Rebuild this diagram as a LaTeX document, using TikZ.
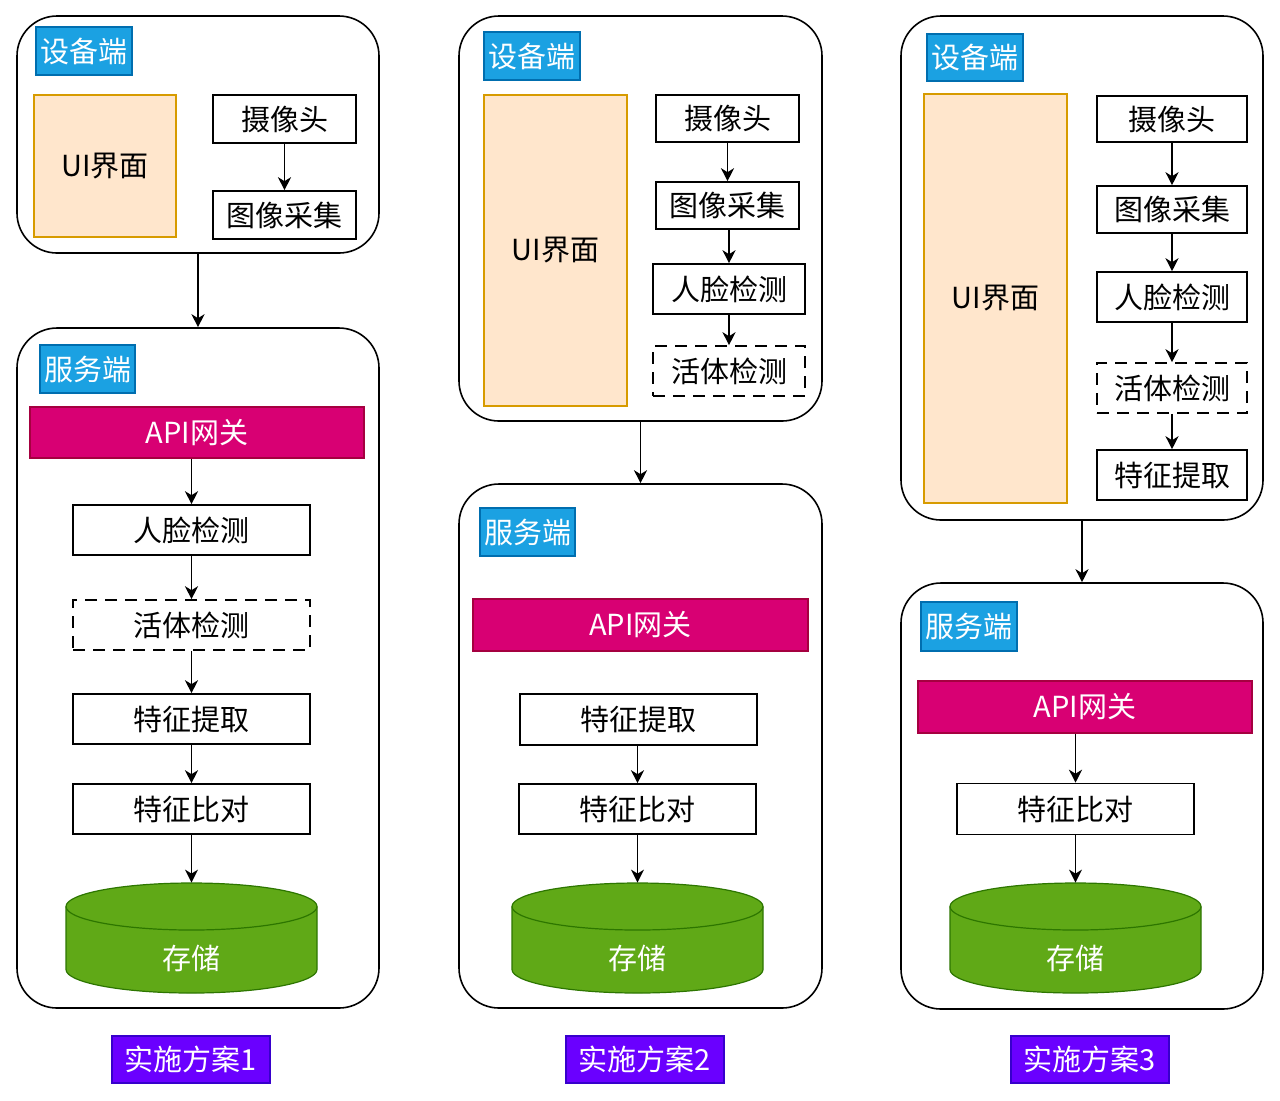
\documentclass[tikz,border=0pt]{standalone}
\usepackage{fontspec}
\setmainfont{Noto Sans CJK SC}
\usetikzlibrary{arrows.meta}

\definecolor{tagfill}{HTML}{1BA1E2}
\definecolor{tagline}{HTML}{006EAF}
\definecolor{uifill}{HTML}{FFE6CC}
\definecolor{uiline}{HTML}{D79B00}
\definecolor{gwfill}{HTML}{D80073}
\definecolor{gwline}{HTML}{A50040}
\definecolor{dbfill}{HTML}{60A917}
\definecolor{dbline}{HTML}{2D7600}
\definecolor{planfill}{HTML}{6A00FF}
\definecolor{planline}{HTML}{3700CC}

\tikzset{
  every node/.style={font=\fontsize{14.5pt}{17pt}\selectfont, inner sep=0pt},
  container/.style={draw, line width=0.8pt, rounded corners=20pt},
  tag/.style={draw=tagline, fill=tagfill, text=white, line width=0.6pt, minimum width=48pt, minimum height=24pt},
  uibox/.style={draw=uiline, fill=uifill, line width=0.6pt},
  procbox/.style={draw, line width=0.8pt},
  livebox/.style={procbox, dash pattern=on 6pt off 4pt},
  gateway/.style={draw=gwline, fill=gwfill, text=white, line width=0.6pt},
  dbshape/.style={draw=dbline, fill=dbfill, line width=0.6pt},
  dbtext/.style={text=white, minimum width=125.5pt, minimum height=55pt},
  planbox/.style={draw=planline, fill=planfill, text=white, line width=0.6pt, minimum width=79pt, minimum height=23.5pt},
  flow/.style={-{Stealth[length=6.5pt,width=6.5pt,inset=2pt]}, line width=0.8pt},
}

\newcommand{\storecyl}[2]{%
  \filldraw[dbshape] (#1-125.5,#2-31.5) -- (#1-125.5,#2+31.5)
    arc[start angle=180, end angle=360, x radius=62.75pt, y radius=11.75pt]
    -- (#1+125.5,#2-31.5)
    arc[start angle=0, end angle=180, x radius=62.75pt, y radius=11.75pt] -- cycle;
  \draw[dbshape, fill=none] (#1-125.5,#2-31.5)
    arc[start angle=180, end angle=360, x radius=62.75pt, y radius=11.75pt];
}

\begin{document}
\begin{tikzpicture}[x=0.5pt, y=-0.5pt]
  \useasboundingbox (0,0) rectangle (1280,1100);

  % Plan 1
  \node[container, minimum width=181pt, minimum height=118.5pt] (dev1) at (198,134.5) {};
  \node[tag] (devlab1) at (84,51) {设备端};
  \node[uibox, minimum width=71pt, minimum height=71pt] (ui1) at (105,166) {UI界面};
  \node[procbox, minimum width=71.5pt, minimum height=24pt] (cam1) at (284.5,119) {摄像头};
  \node[procbox, minimum width=71.5pt, minimum height=24pt] (img1) at (284.5,215) {图像采集};
  \node[container, minimum width=181pt, minimum height=340pt] (srv1) at (198,668) {};
  \node[tag, minimum width=47.5pt] (srvlab1) at (87.5,369) {服务端};
  \node[gateway, minimum width=167pt, minimum height=25.5pt] (api1) at (197,432.5) {API网关};
  \node[procbox, minimum width=118.5pt, minimum height=25pt] (face1) at (191.5,530) {人脸检测};
  \node[livebox, minimum width=118.5pt, minimum height=25pt] (live1) at (191.5,625) {活体检测};
  \node[procbox, minimum width=118.5pt, minimum height=25pt] (feat1) at (191.5,719) {特征提取};
  \node[procbox, minimum width=118.5pt, minimum height=25pt] (cmp1) at (191.5,809) {特征比对};
  \storecyl{191.5}{938}
  \node[dbtext] (store1) at (191.5,938) {\raisebox{-10pt}[\height][\depth]{存储}};
  \node[planbox] (plan1) at (191,1059.5) {实施方案1};

  % Plan 2
  \node[container, minimum width=181.5pt, minimum height=202.5pt] (dev2) at (640.5,218.5) {};
  \node[tag] (devlab2) at (532,56) {设备端};
  \node[uibox, minimum width=71.5pt, minimum height=155.5pt] (ui2) at (555.5,250.5) {UI界面};
  \node[procbox, minimum width=71.5pt, minimum height=23.5pt] (cam2) at (727.5,118.5) {摄像头};
  \node[procbox, minimum width=71.5pt, minimum height=23.5pt] (img2) at (727.5,205.5) {图像采集};
  \node[procbox, minimum width=76pt, minimum height=25pt] (face2) at (729,289) {人脸检测};
  \node[livebox, minimum width=76pt, minimum height=25pt] (live2) at (729,371) {活体检测};
  \node[container, minimum width=181.5pt, minimum height=262pt] (srv2) at (640.5,746) {};
  \node[tag, minimum width=47.5pt] (srvlab2) at (527.5,532) {服务端};
  \node[gateway, minimum width=167.5pt, minimum height=26pt] (api2) at (640.5,625) {API网关};
  \node[procbox, minimum width=118.5pt, minimum height=25.5pt] (feat2) at (638.5,719.5) {特征提取};
  \node[procbox, minimum width=118.5pt, minimum height=25pt] (cmp2) at (637.5,809) {特征比对};
  \storecyl{637.5}{938}
  \node[dbtext] (store2) at (637.5,938) {\raisebox{-10pt}[\height][\depth]{存储}};
  \node[planbox] (plan2) at (645,1059.5) {实施方案2};

  % Plan 3
  \node[container, minimum width=181pt, minimum height=252pt] (dev3) at (1082,268) {};
  \node[tag, minimum height=23.5pt] (devlab3) at (975,57.5) {设备端};
  \node[uibox, minimum width=71.5pt, minimum height=204.5pt] (ui3) at (995.5,298.5) {UI界面};
  \node[procbox, minimum width=75pt, minimum height=23pt] (cam3) at (1172,119) {摄像头};
  \node[procbox, minimum width=75pt, minimum height=23.5pt] (img3) at (1172,209.5) {图像采集};
  \node[procbox, minimum width=75pt, minimum height=25pt] (face3) at (1172,297) {人脸检测};
  \node[livebox, minimum width=75pt, minimum height=25pt] (live3) at (1172,388) {活体检测};
  \node[procbox, minimum width=75pt, minimum height=25pt] (feat3) at (1172,475) {特征提取};
  \node[container, minimum width=181pt, minimum height=213pt] (srv3) at (1082,796) {};
  \node[tag, minimum height=24.5pt] (srvlab3) at (969,626.5) {服务端};
  \node[gateway, minimum width=167pt, minimum height=26pt] (api3) at (1085,707) {API网关};
  \node[procbox, minimum width=118.5pt, minimum height=25.5pt] (cmp3) at (1075.5,809) {特征比对};
  \storecyl{1075.5}{938}
  \node[dbtext] (store3) at (1075.5,938) {\raisebox{-10pt}[\height][\depth]{存储}};
  \node[planbox] (plan3) at (1090,1059.5) {实施方案3};

  % Draw the arrows
  \draw[flow] (cam1) -- (img1);
  \draw[flow] (dev1) -- (srv1);
  \draw[flow] (face1 |- api1.south) -- (face1);
  \draw[flow] (face1) -- (live1);
  \draw[flow] (live1) -- (feat1);
  \draw[flow] (feat1) -- (cmp1);
  \draw[flow] (cmp1) -- (store1);

  \draw[flow] (cam2) -- (img2);
  \draw[flow] (face2 |- img2.south) -- (face2);
  \draw[flow] (face2) -- (live2);
  \draw[flow] (dev2) -- (srv2);
  \draw[flow] (cmp2 |- feat2.south) -- (cmp2);
  \draw[flow] (cmp2) -- (store2);

  \draw[flow] (cam3) -- (img3);
  \draw[flow] (img3) -- (face3);
  \draw[flow] (face3) -- (live3);
  \draw[flow] (live3) -- (feat3);
  \draw[flow] (dev3) -- (srv3);
  \draw[flow] (cmp3 |- api3.south) -- (cmp3);
  \draw[flow] (cmp3) -- (store3);
\end{tikzpicture}
\end{document}
